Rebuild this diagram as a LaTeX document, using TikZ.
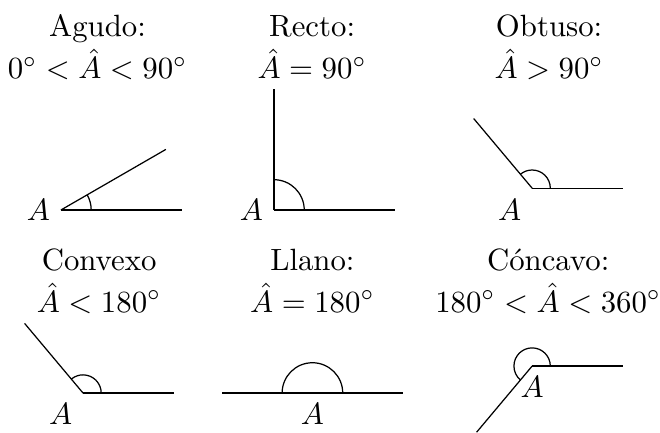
\documentclass[tikz,border=0pt]{standalone}
\usepackage{amsmath, amssymb}
\usepackage{tikz}
\usetikzlibrary{arrows.meta, positioning, calc}

\tikzset{
    titulo/.style={align=center, anchor=base, inner sep=0pt},
}

\begin{document}
\begin{tikzpicture}[scale=0.346]
    \useasboundingbox (0, 0) rectangle (21.78, 14.26);
    % Agudo
    \begin{scope}[shift={(2.01, 7.33)}]
        \coordinate (O1) at (0, 0);
        \draw (O1) -- ++(4, 0);
        \draw (O1) -- ++(30:4);
        \draw (1, 0) arc (0:30:1);
        \node[left] (A1) at (O1) {$A$};
        \node[titulo] (t1) at (1.21, 4.35) {Agudo:\\[1.6pt] $0^\circ < \hat{A} < 90^\circ$};
    \end{scope}

    % Recto
    \begin{scope}[shift={(9.04, 7.33)}]
        \coordinate (O2) at (0, 0);
        \draw (O2) -- ++(4, 0);
        \draw (O2) -- ++(0, 4);
        \draw (1, 0) arc (0:90:1);
        \node[left] (A2) at (O2) {$A$};
        \node[titulo] (t2) at (1.26, 4.35) {Recto:\\[1.6pt] $\hat{A} = 90^\circ$};
    \end{scope}

    % Obtuso
    \begin{scope}[shift={(17.56, 8.05)}]
        \coordinate (O3) at (0, 0);
        \draw (O3) -- ++(3, 0);
        \draw (O3) -- ++(130:3);
        \draw (0.6, 0) arc (0:130:0.6);
        \node[below left] (A3) at (O3) {$A$};
        \node[titulo] (t3) at (0.56, 3.63) {Obtuso:\\[1.6pt] $\hat{A} > 90^\circ$};
    \end{scope}

    % Convexo
    \begin{scope}[shift={(2.74, 1.29)}]
        \coordinate (O4) at (0, 0);
        \draw (O4) -- ++(3, 0);
        \draw (O4) -- ++(130:3);
        \draw (0.6, 0) arc (0:130:0.6);
        \node[below left] (A4) at (O4) {$A$};
        \node[titulo] (t4) at (0.53, 2.67) {Convexo\\[1.6pt] $\hat{A} < 180^\circ$};
    \end{scope}

    % Llano
    \begin{scope}[shift={(10.31, 1.29)}]
        \coordinate (O5) at (0, 0);
        \draw (O5) -- ++(3, 0);
        \draw (O5) -- ++(-3, 0);
        \draw (1, 0) arc (0:180:1);
        \node[below] (A5) at (O5) {$A$};
        \node[titulo] (t5) at (0, 2.67) {Llano:\\[1.6pt] $\hat{A} = 180^\circ$};
    \end{scope}

    % Cóncavo
    \begin{scope}[shift={(17.56, 2.18)}]
        \coordinate (O6) at (0, 0);
        \draw (O6) -- ++(3, 0);
        \draw (O6) -- ++(230:2.85);
        \draw (0.6, 0) arc (0:230:0.6);
        \node[below] (A6) at (O6) {$A$};
        \node[titulo] (t6) at (0.53, 1.78) {Cóncavo:\\[1.6pt] $180^\circ < \hat{A} < 360^\circ$};
    \end{scope}
\end{tikzpicture}
\end{document}
